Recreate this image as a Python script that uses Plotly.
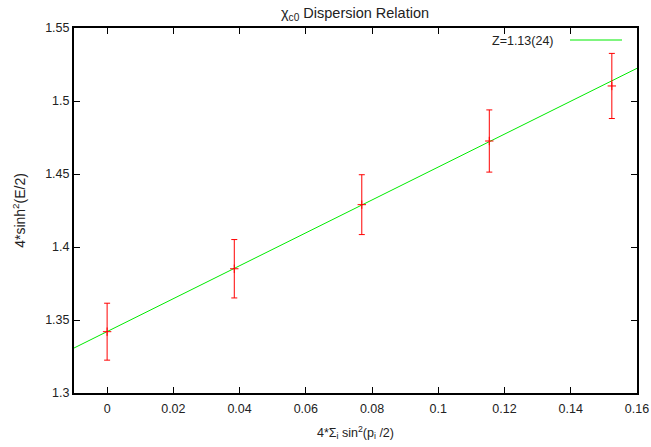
import plotly.graph_objects as go

# data points
x_vals = [0.0, 0.0384, 0.0769, 0.1154, 0.1524]
y_vals = [1.3420, 1.3851, 1.4290, 1.4726, 1.5103]
y_err = [0.0195, 0.0200, 0.0205, 0.0213, 0.0223]

# fit line endpoints (Z=1.13(24))
fit_x = [-0.01, 0.16]
fit_y = [1.3308, 1.5224]

x_ticks = [0, 0.02, 0.04, 0.06, 0.08, 0.1, 0.12, 0.14, 0.16]
x_ticklabels = ["0", "0.02", "0.04", "0.06", "0.08", "0.1", "0.12", "0.14", "0.16"]
y_ticks = [1.3, 1.35, 1.4, 1.45, 1.5, 1.55]
y_ticklabels = ["1.3", "1.35", "1.4", "1.45", "1.5", "1.55"]

FONT = "Liberation Sans, Arial, Helvetica, sans-serif"
GREEN = "rgb(0,235,0)"
RED = "rgb(255,0,0)"
TXT = "#222222"

fig = go.Figure()
fig.add_trace(go.Scatter(
    x=fit_x, y=fit_y, mode="lines",
    line=dict(color=GREEN, width=1), showlegend=False, hoverinfo="skip"))
fig.add_trace(go.Scatter(
    x=x_vals, y=y_vals, mode="markers",
    marker=dict(symbol="cross-thin", size=6, line=dict(color=RED, width=1), color=RED),
    error_y=dict(type="data", array=y_err, visible=True, color=RED, thickness=1, width=3),
    showlegend=False))

# legend mimic
fig.add_annotation(xref="paper", yref="paper", x=(556 - 74) / 563, y=1 - (41 - 28) / 365,
                   text="Z=1.13(24)", showarrow=False, xanchor="right", yanchor="middle",
                   font=dict(family=FONT, size=12.5, color=TXT))
fig.add_shape(type="line", xref="paper", yref="paper",
              x0=(570 - 74) / 563, x1=(622 - 74) / 563,
              y0=1 - (40 - 28) / 365, y1=1 - (40 - 28) / 365,
              line=dict(color=GREEN, width=1))

fig.update_layout(
    width=651, height=447,
    margin=dict(l=74, r=14, t=28, b=54, autoexpand=False),
    paper_bgcolor="white", plot_bgcolor="white",
    font=dict(family=FONT, size=12, color=TXT),
    title=dict(text="χ<sub>c0</sub> Dispersion Relation", x=355 / 651, xanchor="center",
               y=1 - 13 / 447, yanchor="middle", yref="container",
               font=dict(family=FONT, size=14.5, color=TXT)),
)
fig.update_xaxes(
    range=[-0.01, 0.16], tickvals=x_ticks, ticktext=x_ticklabels,
    ticks="inside", ticklen=6, tickwidth=1, tickcolor="black",
    showline=True, linewidth=2, linecolor="black", mirror="ticks",
    showgrid=False, zeroline=False, automargin=False, ticklabelstandoff=3,
    title=dict(text="4*Σ<sub>i</sub> sin<sup>2</sup>(p<sub>i</sub> /2)", standoff=13,
               font=dict(family=FONT, size=12.5, color=TXT)),
    tickfont=dict(family=FONT, size=12.5, color=TXT),
)
fig.update_yaxes(
    range=[1.3, 1.55], tickvals=y_ticks, ticktext=y_ticklabels,
    ticks="inside", ticklen=6, tickwidth=1, tickcolor="black",
    showline=True, linewidth=2, linecolor="black", mirror="ticks",
    showgrid=False, zeroline=False, automargin=False,
    title=dict(text="4*sinh<sup>2</sup>(E/2)", standoff=16, font=dict(family=FONT, size=14, color=TXT)),
    tickfont=dict(family=FONT, size=12.5, color=TXT),
)

fig.write_html("out.html", config={"displayModeBar": False},
               post_script="document.body.style.margin='0';document.body.style.padding='0';")
